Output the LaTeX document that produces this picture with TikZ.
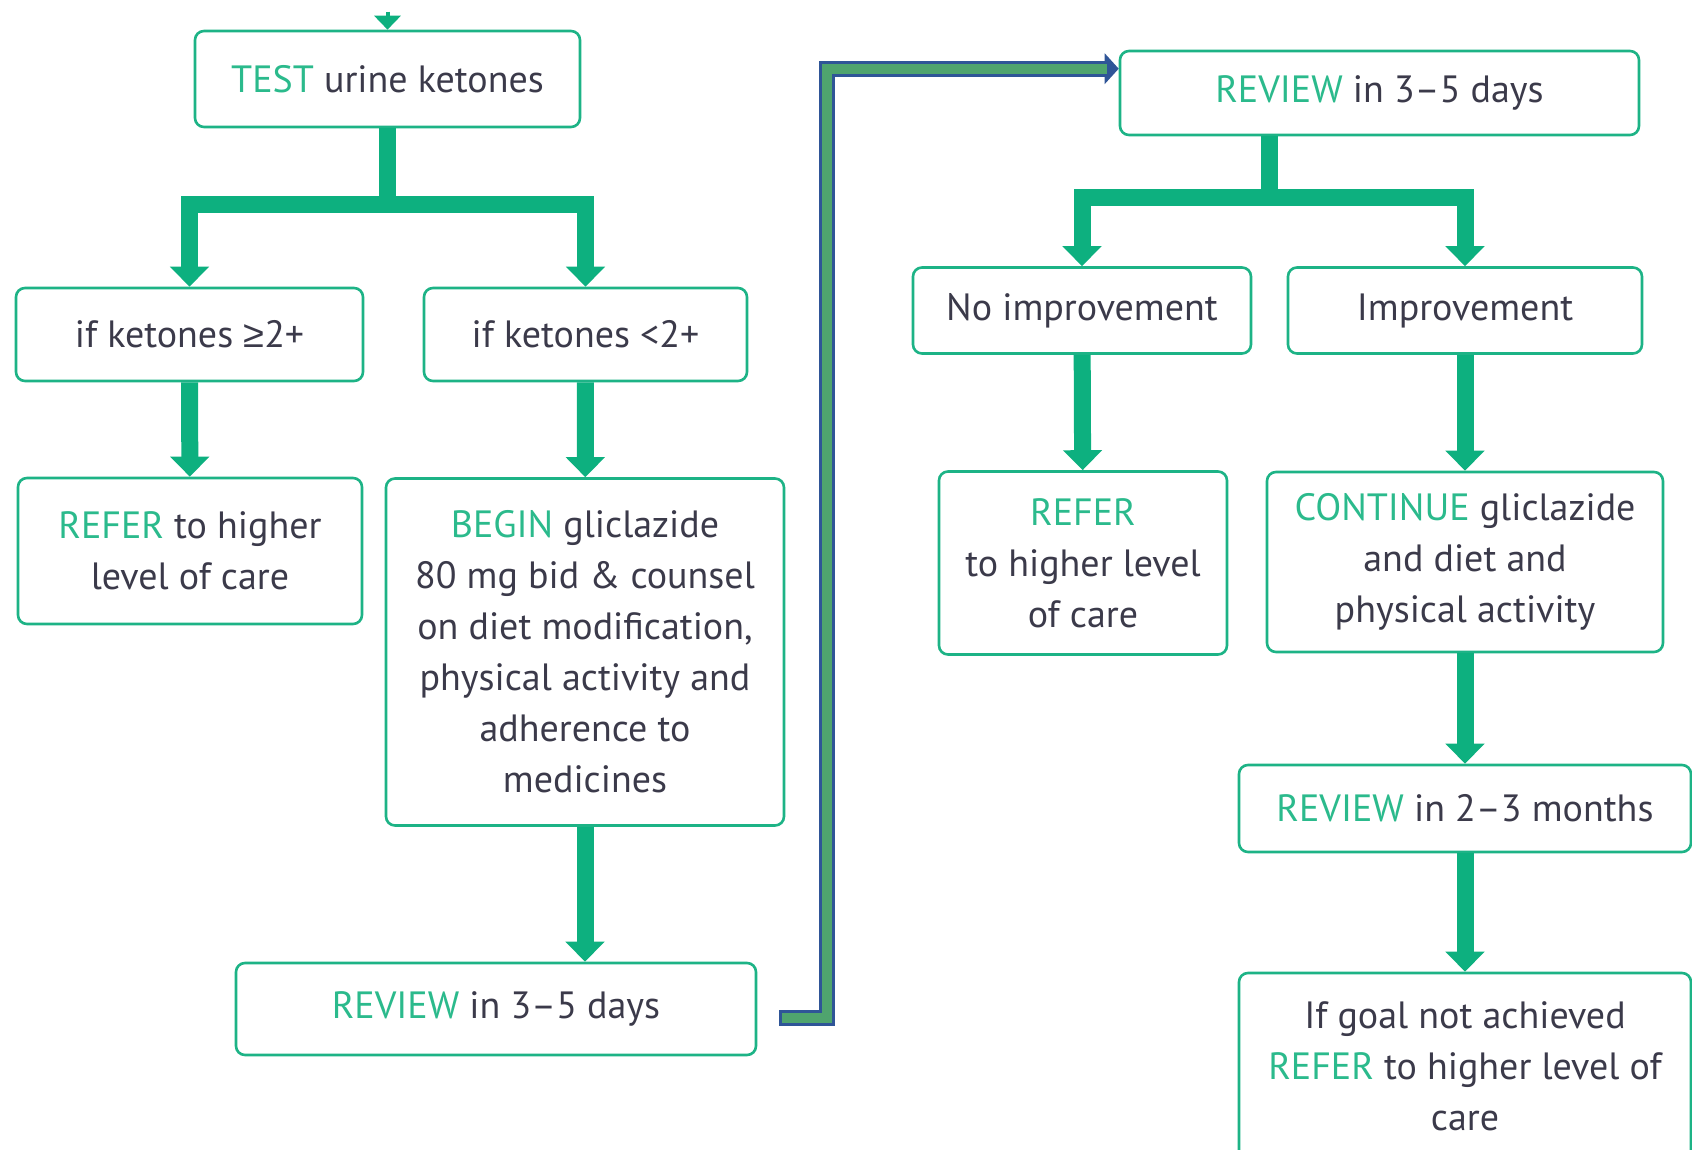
\documentclass[tikz,border=0pt]{standalone}
\usepackage{fontspec}
\setmainfont{PT Sans}
\newfontfamily\symfont{Liberation Sans}
\usetikzlibrary{arrows.meta}

\definecolor{boxgreen}{HTML}{1DB386}
\definecolor{arrowgreen}{HTML}{0DB07F}
\definecolor{keygreen}{HTML}{2BBA8C}
\definecolor{textgray}{HTML}{3B3A4A}
\definecolor{linkgreen}{HTML}{4FA46E}
\definecolor{linkblue}{HTML}{2F5597}
\newcommand{\key}[1]{\textcolor{keygreen}{#1}}

\begin{document}
\begin{tikzpicture}[x=1pt,y=-1pt,
                    main node/.style={rectangle, rounded corners=9pt, draw=boxgreen, line width=2.6pt,
                      fill=white, text=textgray, align=center, inner sep=0pt,
                      font=\fontsize{38}{51}\selectfont},
                    flow/.style={arrowgreen, line width=17pt, -{Triangle[width=38pt,length=20pt]}}]
  \useasboundingbox (0,0) rectangle (1692,1150);

  %Left column%
  \node[main node, minimum width=385pt, minimum height=96pt] (1) at (387.5,79) {\key{TEST} urine ketones};
  \node[main node, minimum width=347pt, minimum height=93pt] (2) at (189.5,334.5) {if ketones {\symfont ≥}2+};
  \node[main node, minimum width=323pt, minimum height=93pt] (3) at (585.5,334.5) {if ketones <2+};
  \node[main node, minimum width=344pt, minimum height=146pt] (4) at (190,551) {\key{REFER} to higher\\level of care};
  \node[main node, minimum width=398pt, minimum height=347pt] (5) at (585,652)
    {\key{BEGIN} gliclazide\\80 mg bid \& counsel\\on diet modification,\\physical activity and\\adherence to\\medicines};
  \node[main node, minimum width=520pt, minimum height=92pt] (6) at (496,1009) {\key{REVIEW} in 3–5 days};

  %Right column%
  \node[main node, minimum width=519pt, minimum height=84pt] (7) at (1379.5,93) {\key{REVIEW} in 3–5 days};
  \node[main node, minimum width=338pt, minimum height=86pt] (8) at (1082,310.5) {No improvement};
  \node[main node, minimum width=354pt, minimum height=86pt] (9) at (1465,310.5) {Improvement};
  \node[main node, minimum width=288pt, minimum height=183pt] (10) at (1083,563) {\key{REFER}\\to higher level\\of care};
  \node[main node, minimum width=396pt, minimum height=180pt] (11) at (1465,562)
    {\key{CONTINUE} gliclazide\\and diet and\\physical activity};
  \node[main node, minimum width=452pt, minimum height=87pt] (12) at (1465,808.5) {\key{REVIEW} in 2–3 months};
  \node[main node, minimum width=452pt, minimum height=187pt] (13) at (1465,1066.5)
    {If goal not achieved\\\key{REFER} to higher level of\\care};

  %Arrows%
  \coordinate (0) at ([yshift=18pt]1.north);
  \draw[arrowgreen, line width=4pt, -{Triangle[width=26pt,length=14pt]}] (0) -- (1.north);

  \draw[flow] (1.south) -- ++(0,76) -| (2.north);
  \draw[flow] (1.south) -- ++(0,76) -| (3.north);
  \draw[flow] ([xshift=-110pt]7.south) -- ++(0,61) -| (8.north);
  \draw[flow] ([xshift=-110pt]7.south) -- ++(0,61) -| (9.north);
  \draw[flow] (5.south) -- (5.south |- 6.north);

  \path[flow]
    (2) edge (4)
    (3) edge (5)
    (8) edge (10)
    (9) edge (11)
    (11) edge (12)
    (12) edge (13);

  %Link%
  \coordinate (a) at ([xshift=22pt,yshift=-9pt]6.east);
  \coordinate (b) at ([yshift=-19pt]7.north west);
  \draw[linkblue, line width=16pt, -{Triangle[width=30pt,length=14pt]}] (a) -- ++(48,0) |- (b);
  \draw[linkgreen, line width=10pt, shorten <=3pt, shorten >=12pt] (a) -- ++(48,0) |- (b);
\end{tikzpicture}
\end{document}
